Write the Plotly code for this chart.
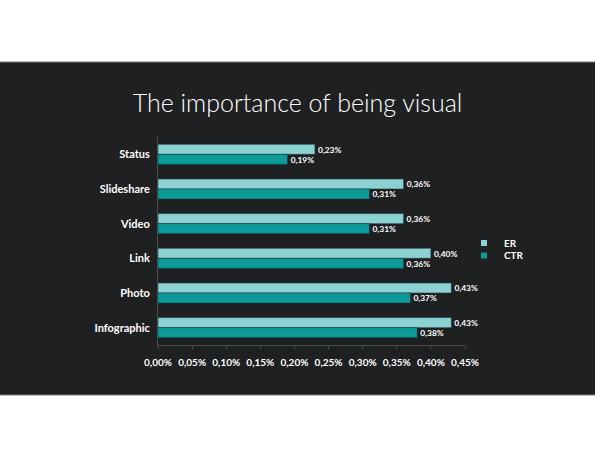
import plotly.graph_objects as go

# Data
categories = ["Status", "Slideshare", "Video", "Link", "Photo", "Infographic"]
er = [0.0023, 0.0036, 0.0036, 0.0040, 0.0043, 0.0043]
ctr = [0.0019, 0.0031, 0.0031, 0.0036, 0.0037, 0.0038]
x_ticks = [0, 0.0005, 0.001, 0.0015, 0.002, 0.0025, 0.003, 0.0035, 0.004, 0.0045]

bg = "#1f2022"
er_color = "#8dd2d2"
ctr_color = "#0f9a9a"
font_name = "Lato"

fig = go.Figure()

# ER bars
fig.add_trace(
    go.Bar(
        y=categories,
        x=er,
        orientation="h",
        name="ER",
        showlegend=False,
        marker=dict(color=er_color, line=dict(color="#1a3a3a", width=0.6)),
        texttemplate="%{x:.2%}",
        textposition="outside",
        textfont=dict(color="white", size=10, family=font_name, weight="bold"),
        cliponaxis=False,
    )
)

# CTR bars
fig.add_trace(
    go.Bar(
        y=categories,
        x=ctr,
        orientation="h",
        name="CTR",
        showlegend=False,
        marker=dict(color=ctr_color, line=dict(color="#0b3a3a", width=0.6)),
        texttemplate="%{x:.2%}",
        textposition="outside",
        textfont=dict(color="white", size=10, family=font_name, weight="bold"),
        cliponaxis=False,
    )
)

# small square legend entries, one legend each so they sit close together
fig.add_trace(go.Scatter(x=[None], y=[None], mode="markers", name="ER",
                         marker=dict(symbol="square", size=6, color=er_color),
                         legend="legend"))
fig.add_trace(go.Scatter(x=[None], y=[None], mode="markers", name="CTR",
                         marker=dict(symbol="square", size=6, color=ctr_color),
                         legend="legend2"))

# dark slide behind the chart
fig.add_shape(
    type="rect",
    xref="paper",
    yref="paper",
    x0=-0.6,
    x1=1.5,
    y0=-0.2404,
    y1=1.3606,
    fillcolor=bg,
    line=dict(color="#7a7a7a", width=1),
    layer="below",
)

legend_font = dict(color="white", size=10, family=font_name, weight="bold")

fig.update_layout(
    width=595,
    height=459,
    margin=dict(l=158, r=130, t=137, b=114),
    paper_bgcolor="white",
    plot_bgcolor=bg,
    separators=",.",
    barmode="group",
    bargap=0.42,
    bargroupgap=0,
    showlegend=True,
    title=dict(
        text="The importance of being visual",
        x=0.5,
        xref="container",
        xanchor="center",
        y=1 - 112 / 459,
        yanchor="bottom",
        font=dict(color="white", size=25, family=font_name, weight=300),
    ),
    legend=dict(
        x=(464 - 158) / 307,
        y=(345 - 243) / 208,
        xanchor="left",
        yanchor="middle",
        bgcolor="rgba(0,0,0,0)",
        font=legend_font,
        itemwidth=30,
    ),
    legend2=dict(
        x=(464 - 158) / 307,
        y=(345 - 255.5) / 208,
        xanchor="left",
        yanchor="middle",
        bgcolor="rgba(0,0,0,0)",
        font=legend_font,
        itemwidth=30,
    ),
    xaxis=dict(
        range=[0, 0.0045],
        tickvals=x_ticks,
        tickformat=".2%",
        showgrid=False,
        zeroline=False,
        showline=True,
        linecolor="#4a4b4d",
        ticks="outside",
        ticklen=3,
        tickcolor="#4a4b4d",
        ticklabelstandoff=5,
        tickfont=dict(color="white", size=10, family=font_name, weight="bold"),
    ),
    yaxis=dict(
        autorange="reversed",
        showgrid=False,
        zeroline=False,
        showline=True,
        linecolor="#4a4b4d",
        ticks="",
        ticklabelstandoff=5,
        tickfont=dict(color="white", size=11, family=font_name, weight="bold"),
    ),
)

# drop the page's default body margin so the figure sits at the window corner
fig.write_html(
    "out.html",
    config={"displayModeBar": False},
    post_script="document.body.style.margin='0';",
)
